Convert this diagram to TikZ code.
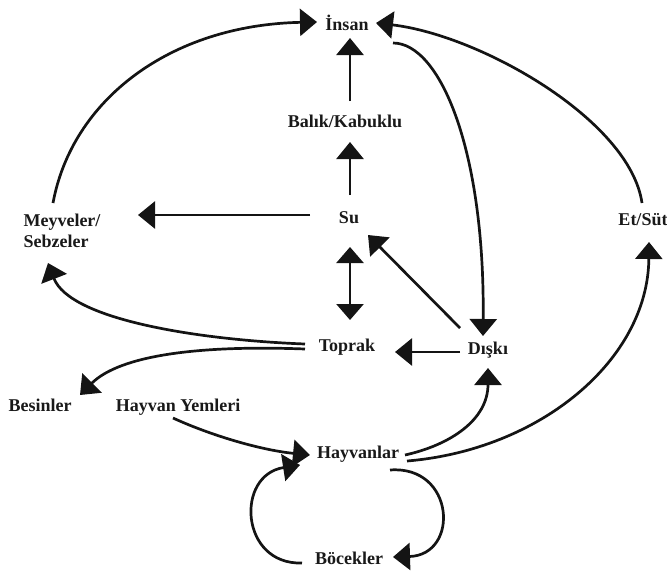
\documentclass[tikz,border=0pt]{standalone}
\usepackage{fontspec}
\setmainfont{Liberation Serif}
\usetikzlibrary{arrows.meta,calc}
\begin{document}
\begin{tikzpicture}[x=1pt,y=-1pt,
  lbl/.style={inner sep=0pt,font=\fontsize{18}{21}\selectfont\bfseries,text=black!90},
  arr/.style={-{Triangle[length=17pt,width=27pt]},line width=2.7pt,black!92},
  darr/.style={{Triangle[length=16pt,width=27pt]}-{Triangle[length=16pt,width=27pt]},line width=2.7pt,black!92}]
\useasboundingbox (0,0) rectangle (667,574);
% nodes
\node[lbl] (insan) at (347,23) {İnsan};
\node[lbl] (balik) at (345,121) {Balık/Kabuklu};
\node[lbl] (su) at (349,218) {Su};
\node[lbl,align=left] (mv) at (62,231) {Meyveler/\\Sebzeler};
\node[lbl] (et) at (643,220) {Et/Süt};
\node[lbl] (toprak) at (347,347) {Toprak};
\node[lbl] (diski) at (488,350) {Dışkı};
\node[lbl] (besinler) at (40,405) {Besinler};
\node[lbl] (yem) at (178,407) {Hayvan Yemleri};
\node[lbl] (hayvan) at (358,454) {Hayvanlar};
\node[lbl] (bocek) at (349,558) {Böcekler};
% connectors
\draw[arr] ($(mv)+(-9,-28)$) .. controls (72,100) and (170,25) .. ($(insan)+(-30,-1)$);
\draw[arr] ($(balik)+(5,-20)$) -- ($(insan)+(3,15)$);
\draw[arr] ($(su)+(1,-23)$) -- ($(balik)+(5,21)$);
\draw[arr] ($(su)+(-39,-3)$) -- ($(mv)+(76,-16)$);
\draw[darr] ($(su)+(1,29)$) -- ($(toprak)+(3,-27)$);
\draw[arr] ($(diski)+(-28,-22)$) -- ($(su)+(19,17)$);
\draw[arr] ($(insan)+(46,20)$) .. controls (440,43) and (485,150) .. ($(diski)+(-5,-14)$);
\draw[arr] ($(et)+(-1,-17)$) .. controls (630,120) and (480,35) .. ($(insan)+(29,0)$);
\draw[arr] ($(diski)+(-28,2)$) -- ($(toprak)+(48,5)$);
\draw[arr] ($(toprak)+(-42,-3)$) .. controls (200,340) and (70,320) .. ($(mv)+(-14,32)$);
\draw[arr] ($(toprak)+(-42,2)$) .. controls (200,345) and (120,355) .. ($(besinler)+(40,-10)$);
\draw[arr] ($(yem)+(-5,11)$) .. controls (210,435) and (260,450) .. ($(hayvan)+(-48,1)$);
\draw[arr] ($(hayvan)+(47,1)$) .. controls (450,445) and (488,420) .. ($(diski)+(0,18)$);
\draw[arr] ($(hayvan)+(49,7)$) .. controls (540,450) and (648,360) .. ($(et)+(6,22)$);
\draw[arr] ($(hayvan)+(32,16)$) .. controls (455,465) and (460,555) .. ($(bocek)+(44,-1)$);
\draw[arr] ($(bocek)+(-47,5)$) .. controls (240,565) and (235,475) .. ($(hayvan)+(-58,11)$);
\end{tikzpicture}
\end{document}
